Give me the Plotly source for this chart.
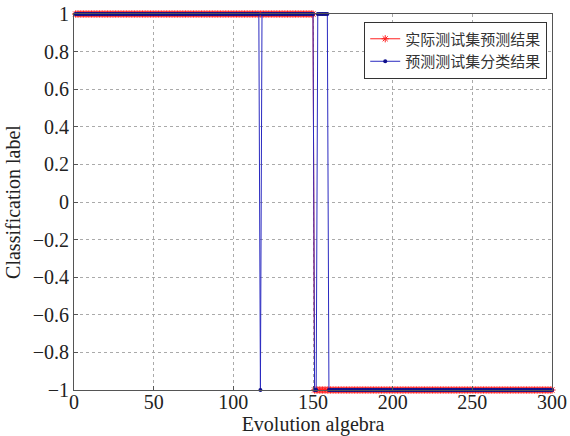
import plotly.graph_objects as go

# Evolution algebra (generation index)
generations = list(range(1, 301))

# Runs of (label, count)
actual_runs = [(1, 150), (-1, 150)]
predicted_runs = [(1, 116), (-1, 1), (1, 33), (-1, 2), (1, 7), (-1, 141)]

def expand(runs):
    out = []
    for v, n in runs:
        out += [v] * n
    return out

actual_label = expand(actual_runs)
predicted_label = expand(predicted_runs)

x_ticks = [0, 50, 100, 150, 200, 250, 300]
y_ticks = [-1, -0.8, -0.6, -0.4, -0.2, 0, 0.2, 0.4, 0.6, 0.8, 1]

fig = go.Figure()
fig.add_trace(go.Scatter(
    x=generations, y=actual_label, mode="lines+markers",
    name="实际测试集预测结果",
    line=dict(color="#ff2020", width=1),
    marker=dict(symbol="asterisk", size=6, color="#ff2020",
                line=dict(color="#ff2020", width=1)),
    cliponaxis=False,
))
fig.add_trace(go.Scatter(
    x=generations, y=predicted_label, mode="lines+markers",
    name="预测测试集分类结果",
    line=dict(color="#2a2ac0", width=1),
    marker=dict(symbol="circle", size=4, color="#10108a"),
    cliponaxis=False,
))

axis_common = dict(
    showline=True, linecolor="#555555", linewidth=1, mirror=True,
    ticks="inside", ticklen=4, tickcolor="#555555",
    showgrid=True, gridcolor="#aaaaaa", griddash="dot", gridwidth=1,
    zeroline=False, automargin=False,
    tickfont=dict(family="Liberation Serif", size=20, color="#222222"),
    title_font=dict(family="Liberation Serif", size=20, color="#222222"),
)

fig.update_layout(
    width=570, height=436,
    margin=dict(l=74, r=18, t=14, b=46),
    paper_bgcolor="white", plot_bgcolor="white",
    xaxis=dict(range=[0, 300], tickvals=x_ticks, ticklabelstandoff=-6,
               title=dict(text="Evolution algebra", standoff=2),
               **axis_common),
    yaxis=dict(range=[-1, 1], tickvals=y_ticks, ticklabelstandoff=0,
               title=dict(text="Classification label", standoff=6),
               **axis_common),
    legend=dict(
        x=0.99, y=0.98, xanchor="right", yanchor="top",
        bgcolor="white", bordercolor="#333333", borderwidth=1,
        font=dict(family="Noto Sans CJK SC", size=15, color="#333333"),
        tracegroupgap=0, itemwidth=30,
    ),
)

fig.write_html("out.html", config={"displayModeBar": False})

# remove default page margin so the figure sits at the window origin
with open("out.html", "r", encoding="utf-8") as f:
    html = f.read()
html = html.replace("<head>", "<head><style>html,body{margin:0;padding:0;overflow:hidden;}</style>", 1)
with open("out.html", "w", encoding="utf-8") as f:
    f.write(html)
